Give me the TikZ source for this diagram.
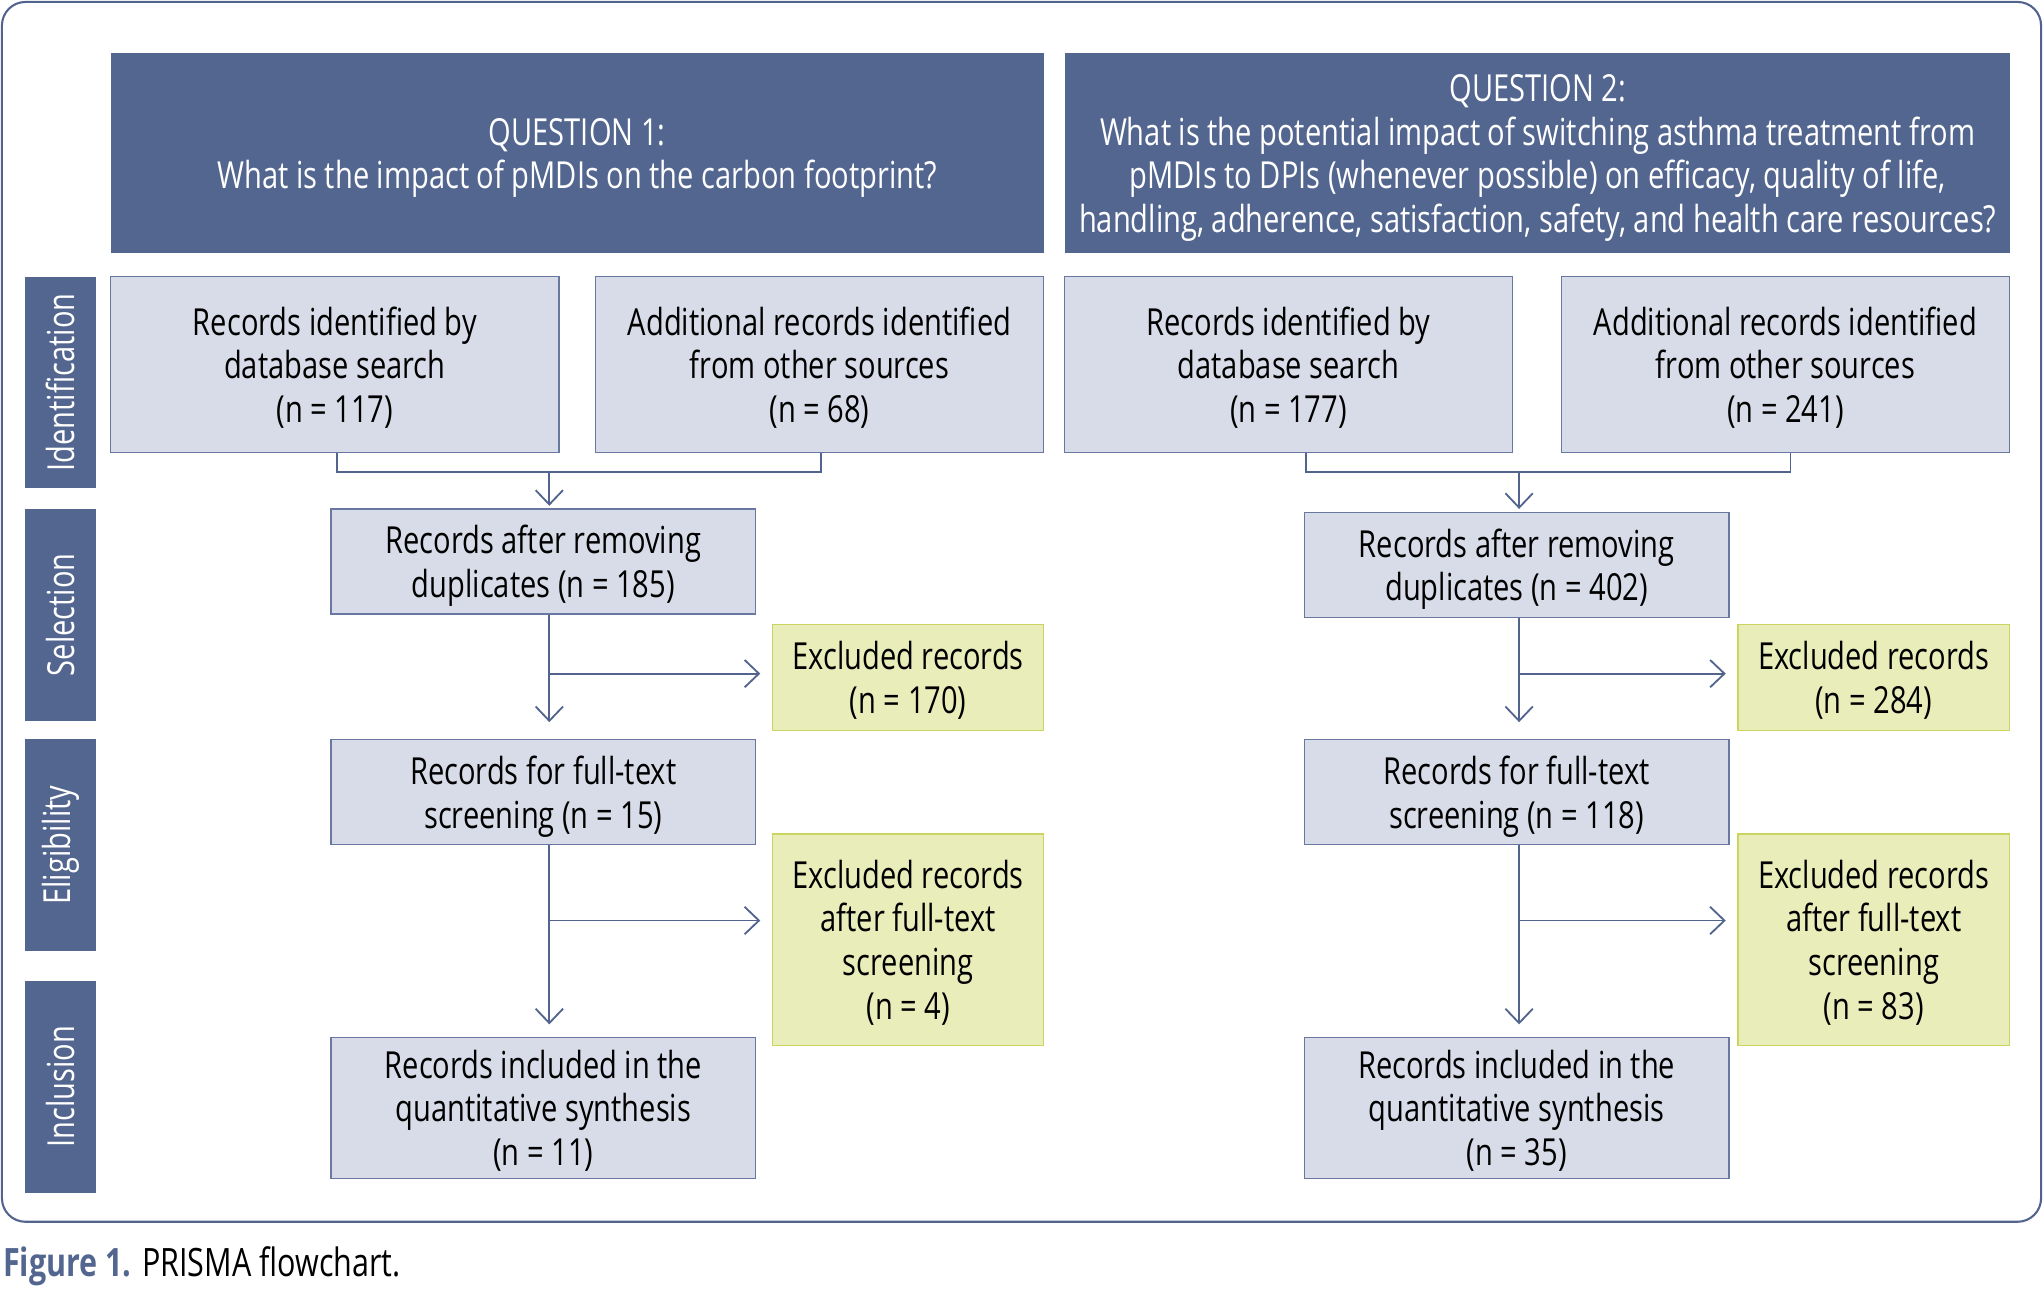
\documentclass[tikz,border=0pt]{standalone}
\usepackage{fontspec}
\setmainfont{Open Sans}[FakeStretch=0.78]
\usepackage{tikz}
\usetikzlibrary{arrows.meta}

\definecolor{qblue}{RGB}{83,102,143}
\definecolor{boxfill}{RGB}{216,220,232}
\definecolor{boxline}{RGB}{104,120,160}
\definecolor{exfill}{RGB}{232,237,186}
\definecolor{exline}{RGB}{204,212,96}
\definecolor{lineblue}{RGB}{82,100,142}

\begin{document}
\begin{tikzpicture}[>={Straight Barb[length=5.5pt,width=10.5pt]}, x=0.5pt, y=-0.5pt,
    every node/.style={font=\fontsize{14.3}{16.8}\selectfont, inner sep=0pt, align=center},
    question/.style={fill=qblue, text=white, text depth=0pt, minimum height=76.75pt},
    phase/.style={fill=qblue, text=white, rotate=90, minimum width=81.25pt, minimum height=27pt},
    record/.style={draw=boxline, fill=boxfill, line width=0.5pt, text depth=0pt},
    idbox/.style={record, minimum width=172pt, minimum height=67.55pt},
    flowbox/.style={record, minimum width=163pt, minimum height=40.3pt},
    excluded/.style={draw=exline, fill=exfill, line width=0.5pt, text depth=0pt, minimum width=104pt},
    link/.style={draw=lineblue, line width=0.7pt}]
    \useasboundingbox (0,0) rectangle (1568,1007);
    \draw [draw=lineblue, line width=0.8pt, rounded corners=9pt] (1.5,1.5) rectangle (1566.5,937.7);

    % questions
    \node [question, minimum width=358pt] (q1) at (443,117.75) {QUESTION 1:\\What is the impact of pMDIs on the carbon footprint?};
    \node [question, minimum width=362.5pt] (q2) at (1180.15,117.75) {QUESTION 2:\\What is the potential impact of switching asthma treatment from\\pMDIs to DPIs (whenever possible) on efficacy, quality of life,\\handling, adherence, satisfaction, safety, and health care resources?};

    % phases
    \node [phase] (ident) at (46.35,293.5) {Identification};
    \node [phase] (selec) at (46.35,471.8) {Selection};
    \node [phase] (elig) at (46.35,648.6) {Eligibility};
    \node [phase] (incl) at (46.35,834) {Inclusion};

    % question 1
    \node [idbox] (db1) at (257,279.85) {Records identified by\\database search\\(n = 117)};
    \node [idbox] (oth1) at (629,279.85) {Additional records identified\\from other sources\\(n = 68)};
    \node [flowbox] (sel1) at (417,431) {Records after removing\\duplicates (n = 185)};
    \node [excluded, minimum height=40.5pt] (exa1) at (697,520) {Excluded records\\(n = 170)};
    \node [flowbox] (full1) at (417,607.85) {Records for full-text\\screening (n = 15)};
    \node [excluded, minimum height=81.2pt] (exb1) at (697,721.2) {Excluded records\\after full-text\\screening\\(n = 4)};
    \node [flowbox, minimum height=54.1pt] (inc1) at (417,850.2) {Records included in the\\quantitative synthesis\\(n = 11)};

    % question 2
    \node [idbox] (db2) at (988.85,279.85) {Records identified by\\database search\\(n = 177)};
    \node [idbox] (oth2) at (1370.35,279.85) {Additional records identified\\from other sources\\(n = 241)};
    \node [flowbox] (sel2) at (1164,433.4) {Records after removing\\duplicates (n = 402)};
    \node [excluded, minimum height=40.5pt] (exa2) at (1438,520) {Excluded records\\(n = 284)};
    \node [flowbox] (full2) at (1164,607.85) {Records for full-text\\screening (n = 118)};
    \node [excluded, minimum height=81.2pt] (exb2) at (1438,721.2) {Excluded records\\after full-text\\screening\\(n = 83)};
    \node [flowbox, minimum height=54.1pt] (inc2) at (1164,850.2) {Records included in the\\quantitative synthesis\\(n = 35)};

    \coordinate (m1) at (421.6,362);
    \coordinate (b1) at (421.6,517);
    \coordinate (b2) at (421.6,706.5);
    \coordinate (m2) at (1165.9,362);
    \coordinate (b3) at (1165.9,517);
    \coordinate (b4) at (1165.9,706.5);

    \draw [link] ([xshift=0.7pt]db1.south) |- (m1) -| ([xshift=0.5pt]oth1.south);
    \draw [link, ->, shorten >=1pt] (m1) -- (m1 |- sel1.north);
    \draw [link, ->, shorten >=6.4pt] (sel1.south -| m1) -- (full1.north -| m1);
    \draw [link, ->, shorten >=4.5pt] (b1) -- (b1 -| exa1.west);
    \draw [link, ->, shorten >=4.7pt] (full1.south -| m1) -- (inc1.north -| m1);
    \draw [link, ->, shorten >=4.5pt] (b2) -- (b2 -| exb1.west);

    \draw [link] ([xshift=6.8pt]db2.south) |- (m2) -| ([xshift=1.9pt]oth2.south);
    \draw [link, ->, shorten >=1pt] (m2) -- (m2 |- sel2.north);
    \draw [link, ->, shorten >=6.4pt] (sel2.south -| m2) -- (full2.north -| m2);
    \draw [link, ->, shorten >=4.5pt] (b3) -- (b3 -| exa2.west);
    \draw [link, ->, shorten >=4.7pt] (full2.south -| m2) -- (inc2.north -| m2);
    \draw [link, ->, shorten >=4.5pt] (b4) -- (b4 -| exb2.west);

    \node [anchor=base west, font=\fontsize{15}{18}\selectfont] (cap) at (2,980) {\textbf{\color{qblue}Figure 1.} PRISMA flowchart.};
\end{tikzpicture}
\end{document}
